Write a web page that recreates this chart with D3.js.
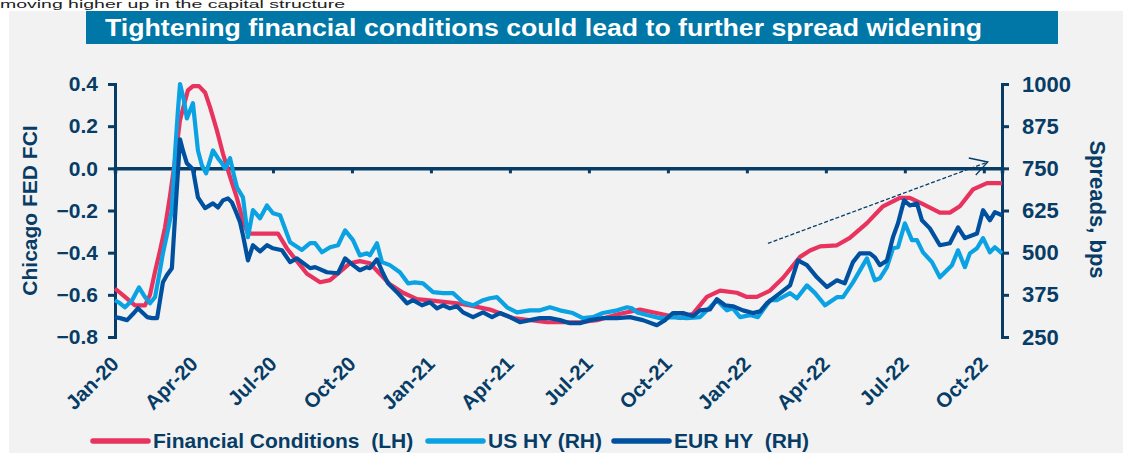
<!DOCTYPE html>
<html><head><meta charset="utf-8">
<script src="https://cdn.jsdelivr.net/npm/d3@7"></script>
<style>
html,body{margin:0;padding:0;background:#fff;}
svg text{font-family:"Liberation Sans",Arial,sans-serif;}
</style></head>
<body>
<svg id="chart" width="1123" height="454"></svg>
<script>
// ---- data (x = months since Jan-2020) ----
const xTickMonths = [0,3,6,9,12,15,18,21,24,27,30,33];
const xTickLabels = ["Jan-20","Apr-20","Jul-20","Oct-20","Jan-21","Apr-21","Jul-21","Oct-21","Jan-22","Apr-22","Jul-22","Oct-22"];
const leftTicks = [-0.8,-0.6,-0.4,-0.2,0.0,0.2,0.4];
const rightTicks = [250,375,500,625,750,875,1000];

const fciMonth = [0,0.38,0.76,1.14,1.33,1.52,1.71,1.90,2.09,2.28,2.47,2.77,2.96,3.19,3.42,3.61,3.87,4.10,4.37,4.63,4.86,5.05,5.62,6.19,6.53,6.91,7.29,7.79,8.17,8.55,8.93,9.30,9.68,10.06,10.44,10.94,11.47,12.23,12.99,13.48,14.24,15.12,16.41,17.66,18.31,19.18,19.94,20.70,21.46,21.95,22.48,22.98,23.62,24.00,24.38,24.88,25.37,26.02,26.40,26.78,27.42,27.91,28.56,29.17,29.81,30.19,30.69,31.33,31.71,32.09,32.59,33.12,33.69];
const fciValue = [-0.57,-0.61,-0.65,-0.65,-0.60,-0.49,-0.39,-0.28,-0.13,0.04,0.23,0.37,0.39,0.39,0.36,0.29,0.18,0.07,-0.04,-0.14,-0.25,-0.31,-0.31,-0.31,-0.38,-0.44,-0.50,-0.54,-0.53,-0.49,-0.45,-0.44,-0.45,-0.50,-0.55,-0.59,-0.62,-0.63,-0.64,-0.65,-0.67,-0.71,-0.73,-0.73,-0.72,-0.69,-0.67,-0.69,-0.71,-0.69,-0.61,-0.58,-0.59,-0.61,-0.61,-0.58,-0.52,-0.42,-0.39,-0.37,-0.365,-0.33,-0.26,-0.18,-0.14,-0.14,-0.17,-0.21,-0.21,-0.18,-0.10,-0.07,-0.07];

const usMonth = [0,0.19,0.38,0.65,0.91,1.14,1.33,1.52,1.71,1.82,2.01,2.16,2.28,2.39,2.47,2.62,2.73,2.96,3.15,3.30,3.46,3.72,3.91,4.06,4.18,4.37,4.52,4.63,4.86,5.05,5.24,5.51,5.77,6.00,6.27,6.65,7.10,7.41,7.60,7.86,8.17,8.47,8.74,9.04,9.30,9.57,9.68,9.95,10.14,10.44,10.82,11.13,11.39,11.70,12.08,12.46,12.84,13.22,13.60,13.98,14.24,14.51,14.89,15.27,15.76,16.14,16.52,16.90,17.39,17.77,18.15,18.53,19.07,19.45,19.64,19.83,20.20,20.70,21.19,21.72,22.22,22.60,22.86,23.24,23.47,23.74,24.12,24.42,24.88,25.14,25.64,25.90,26.28,26.59,26.97,27.42,27.65,28.03,28.56,28.86,29.05,29.32,29.55,29.74,30.00,30.27,30.46,30.69,31.03,31.33,31.79,32.02,32.28,32.47,32.74,32.97,33.23,33.42,33.69];
const usValue = [359,350,338,359,397,368,350,368,448,498,566,626,794,922,1000,951,898,943,803,759,735,803,780,765,750,780,729,694,664,546,626,602,640,617,611,531,508,528,528,501,516,522,566,537,492,498,492,528,472,463,442,409,412,409,383,380,380,353,344,359,365,368,338,323,329,329,338,329,321,306,309,321,329,338,335,323,315,306,309,306,309,338,359,329,335,309,315,309,359,359,380,365,403,380,344,368,368,412,483,418,424,457,513,516,587,537,537,501,472,427,463,507,457,498,513,543,501,516,498];

const eurMonth = [0,0.19,0.46,0.68,0.87,1.06,1.22,1.41,1.60,1.71,1.82,1.97,2.16,2.32,2.47,2.58,2.73,2.96,3.15,3.42,3.72,3.91,4.10,4.29,4.44,4.60,4.75,4.86,5.05,5.24,5.51,5.77,6.00,6.34,6.65,6.91,7.41,7.60,8.05,8.47,8.74,9.04,9.30,9.57,9.68,9.95,10.18,10.37,10.71,11.09,11.32,11.66,11.96,12.23,12.46,12.72,12.99,13.22,13.60,13.98,14.32,14.62,15.00,15.38,15.76,16.14,16.52,16.90,17.28,17.66,18.04,18.53,19.07,19.56,20.05,20.58,20.89,21.19,21.57,21.95,22.22,22.60,22.86,23.17,23.47,23.85,24.23,24.50,24.76,25.26,25.64,25.94,26.28,26.66,27.04,27.42,27.72,28.03,28.29,28.67,28.86,29.05,29.32,29.55,29.74,29.97,30.19,30.46,30.65,30.95,31.33,31.71,32.02,32.28,32.74,32.97,33.23,33.42,33.69];
const eurValue = [309,306,300,318,335,321,309,306,306,359,412,433,454,655,836,803,765,747,664,632,646,634,655,661,649,620,590,552,477,522,504,522,513,507,472,483,454,457,442,439,483,463,448,457,454,480,439,409,383,350,359,344,353,335,344,335,341,323,309,323,309,321,309,294,300,306,306,300,291,291,300,306,306,309,300,285,300,321,321,312,329,332,362,344,341,329,321,326,350,380,403,477,463,427,398,418,409,472,498,498,486,463,477,546,587,655,640,646,596,572,522,528,575,543,557,626,596,620,611];

const seriesNames = ["Financial Conditions  (LH)","US HY (RH)","EUR HY  (RH)"];
const seriesColors = ["#e8335f","#0aa2e2","#0050a0"];

// ---- layout ----
const navy = "#063c66";
const svg = d3.select("#chart");
const W = 1123, H = 454;
const pL = 115, pR = 1002, pT = 84, pB = 337;

svg.append("rect").attr("x",0).attr("y",0).attr("width",W).attr("height",H).attr("fill","#ffffff");
svg.append("text").attr("x",0).attr("y",8).attr("font-size",10).attr("fill","#222")
   .attr("textLength",345).attr("lengthAdjust","spacingAndGlyphs")
   .text("moving higher up in the capital structure");
svg.append("rect").attr("x",9).attr("y",11).attr("width",W-9).attr("height",442).attr("fill","#f2f2f2");
svg.append("rect").attr("x",86).attr("y",11).attr("width",972).attr("height",33).attr("fill","#0077a7");
svg.append("text").attr("x",105).attr("y",36).attr("font-size",23).attr("font-weight","bold").attr("fill","#fff")
   .attr("textLength",877).attr("lengthAdjust","spacingAndGlyphs")
   .text("Tightening financial conditions could lead to further spread widening");

const x = d3.scaleLinear().domain([0,33.69]).range([pL,pR]);
const yL = d3.scaleLinear().domain([-0.8,0.4]).range([pB,pT]);
const yR = d3.scaleLinear().domain([250,1000]).range([pB,pT]);

// left axis
const gL = svg.append("g").attr("transform",`translate(${pL},0)`)
  .call(d3.axisLeft(yL).tickValues(leftTicks).tickFormat(d3.format(".1f")).tickSizeOuter(0).tickSize(7).tickPadding(10));
gL.select(".domain").attr("stroke",navy).attr("stroke-width",3);
gL.selectAll(".tick line").attr("stroke",navy).attr("stroke-width",3);
gL.selectAll(".tick text").attr("font-size",21).attr("font-weight","bold").attr("fill",navy)
  .attr("font-family","'Liberation Sans',Arial,sans-serif");

// right axis
const gR = svg.append("g").attr("transform",`translate(${pR},0)`)
  .call(d3.axisRight(yR).tickValues(rightTicks).tickFormat(d3.format("d")).tickSizeOuter(0).tickSize(7).tickPadding(13));
gR.select(".domain").attr("stroke",navy).attr("stroke-width",3);
gR.selectAll(".tick line").attr("stroke",navy).attr("stroke-width",3);
gR.selectAll(".tick text").attr("font-size",22).attr("font-weight","bold").attr("fill",navy)
  .attr("font-family","'Liberation Sans',Arial,sans-serif");

// x axis line at zero
const gX = svg.append("g").attr("transform",`translate(0,${yL(0)})`)
  .call(d3.axisBottom(x).tickValues(xTickMonths).tickFormat("").tickSizeOuter(0).tickSize(5));
gX.select(".domain").attr("stroke",navy).attr("stroke-width",3.5);
gX.selectAll(".tick line").attr("stroke",navy).attr("stroke-width",3);

// x labels (low position)
svg.append("g").selectAll("text").data(xTickMonths).join("text")
  .attr("transform",(d)=>`translate(${x(d)-5},${355}) rotate(-45)`)
  .attr("text-anchor","end").attr("dy","0.7em")
  .attr("font-size",20.5).attr("font-weight","bold").attr("fill",navy)
  .text((d,i)=>xTickLabels[i]);

// axis titles
svg.append("text").attr("transform",`translate(37,${(pT+pB)/2}) rotate(-90)`)
  .attr("text-anchor","middle").attr("font-size",21).attr("font-weight","bold").attr("fill",navy)
  .text("Chicago FED FCI");
svg.append("text").attr("transform",`translate(1090,${(pT+pB)/2 - 1}) rotate(90)`)
  .attr("text-anchor","middle").attr("font-size",22).attr("font-weight","bold").attr("fill",navy)
  .text("Spreads, bps");

// lines
const lineL = d3.line().x(d=>x(d[0])).y(d=>yL(d[1]));
const lineR = d3.line().x(d=>x(d[0])).y(d=>yR(d[1]));
const fci = fciMonth.map((m,i)=>[m,fciValue[i]]);
const us = usMonth.map((m,i)=>[m,usValue[i]]);
const eur = eurMonth.map((m,i)=>[m,eurValue[i]]);
const lw = 4.2;
svg.append("path").attr("d",lineL(fci)).attr("fill","none").attr("stroke",seriesColors[0]).attr("stroke-width",lw).attr("stroke-linejoin","round");
svg.append("path").attr("d",lineR(us)).attr("fill","none").attr("stroke",seriesColors[1]).attr("stroke-width",lw).attr("stroke-linejoin","round");
svg.append("path").attr("d",lineR(eur)).attr("fill","none").attr("stroke",seriesColors[2]).attr("stroke-width",lw).attr("stroke-linejoin","round");

// trend arrow annotation
const a0 = [x(24.8), yL(-0.356)], a1 = [x(33.15), yL(0.03)];
svg.append("line").attr("x1",a0[0]).attr("y1",a0[1]).attr("x2",a1[0]).attr("y2",a1[1])
  .attr("stroke",navy).attr("stroke-width",1.3).attr("stroke-dasharray","4,2");
svg.append("path").attr("d",`M${a1[0]-19},${a1[1]-4} L${a1[0]},${a1[1]} L${a1[0]-12},${a1[1]+13}`)
  .attr("fill","none").attr("stroke",navy).attr("stroke-width",1.3);

// legend
const legX = [93,428,614];
const lg = svg.append("g");
seriesNames.forEach((n,i)=>{
  lg.append("line").attr("x1",legX[i]).attr("x2",legX[i]+55).attr("y1",441).attr("y2",441)
    .attr("stroke",seriesColors[i]).attr("stroke-width",5.5).attr("stroke-linecap","round");
  lg.append("text").attr("x",legX[i]+60).attr("y",448).attr("font-size",21).attr("font-weight","bold")
    .attr("fill",navy).style("white-space","pre").text(n);
});
</script>
</body></html>
